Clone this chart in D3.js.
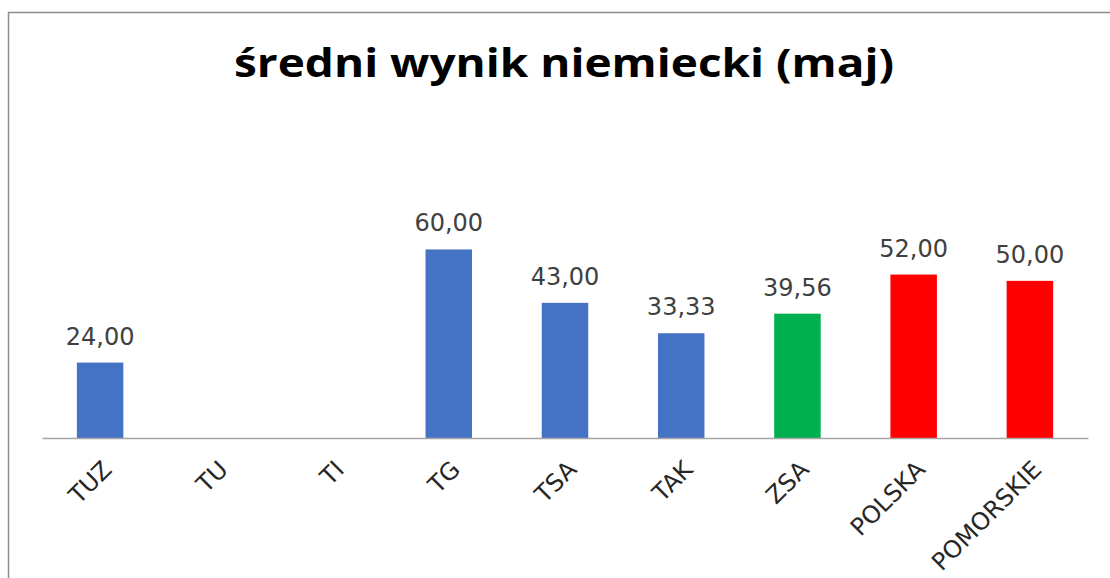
<!DOCTYPE html>
<html>
<head>
<meta charset="utf-8">
<script src="https://cdn.jsdelivr.net/npm/d3@7"></script>
<style>
  body { margin: 0; background: #fff; }
  svg { display: block; }
</style>
</head>
<body>
<svg id="chart"></svg>
<script>
// data
const categories = ['TUZ', 'TU', 'TI', 'TG', 'TSA', 'TAK', 'ZSA', 'POLSKA', 'POMORSKIE'];
const values = [24.00, null, null, 60.00, 43.00, 33.33, 39.56, 52.00, 50.00];
const barColors = ['#4472C4', '#4472C4', '#4472C4', '#4472C4', '#4472C4', '#4472C4', '#00B050', '#FF0000', '#FF0000'];
const title = 'średni wynik niemiecki (maj)';

const width = 1110, height = 578;
const plot = {left: 42, right: 1088, top: 218, bottom: 438};

const svg = d3.select('#chart')
  .attr('width', width)
  .attr('height', height);

// chart area frame (only top and left edges are visible in the crop)
svg.append('rect')
  .attr('x', 8.5).attr('y', 12.5)
  .attr('width', width + 20).attr('height', height + 20)
  .attr('fill', 'none')
  .attr('stroke', '#8c8c8c')
  .attr('stroke-width', 1.5);

svg.append('text')
  .attr('x', 564)
  .attr('y', 77)
  .attr('text-anchor', 'middle')
  .attr('font-family', 'Open Sans, sans-serif')
  .attr('font-weight', 'bold')
  .attr('font-size', 40)
  .attr('textLength', 660)
  .attr('lengthAdjust', 'spacingAndGlyphs')
  .attr('fill', '#000')
  .text(title);

const x = d3.scaleBand()
  .domain(categories)
  .range([plot.left, plot.right])
  .paddingInner(0.6)
  .paddingOuter(0.3);

const y = d3.scaleLinear()
  .domain([0, 70])
  .range([plot.bottom, plot.top]);

const fmt = v => d3.format('.2f')(v).replace('.', ',');

const data = categories.map((c, i) => ({cat: c, value: values[i], color: barColors[i]}));
const withValue = data.filter(d => d.value != null);

svg.append('g')
  .selectAll('rect')
  .data(withValue)
  .join('rect')
  .attr('x', d => x(d.cat))
  .attr('y', d => y(d.value))
  .attr('width', x.bandwidth())
  .attr('height', d => y(0) - y(d.value))
  .attr('fill', d => d.color);

svg.append('g')
  .selectAll('text')
  .data(withValue)
  .join('text')
  .attr('x', d => x(d.cat) + x.bandwidth() / 2)
  .attr('y', d => y(d.value) - 18)
  .attr('text-anchor', 'middle')
  .attr('font-family', 'DejaVu Sans, sans-serif')
  .attr('font-size', 24)
  .attr('fill', '#404040')
  .text(d => fmt(d.value));

// category axis
const xAxis = d3.axisBottom(x).tickSize(0).tickPadding(0);
const gx = svg.append('g')
  .attr('transform', 'translate(0,' + plot.bottom + ')')
  .call(xAxis);

gx.select('.domain')
  .attr('stroke', '#a6a6a6')
  .attr('stroke-width', 1.5);

gx.selectAll('.tick text')
  .attr('font-family', 'DejaVu Sans, sans-serif')
  .attr('font-size', 24)
  .attr('fill', '#262626')
  .attr('text-anchor', 'end')
  .attr('dy', null)
  .attr('y', 0)
  .attr('transform', 'translate(13,33) rotate(-45)');
</script>
</body>
</html>
